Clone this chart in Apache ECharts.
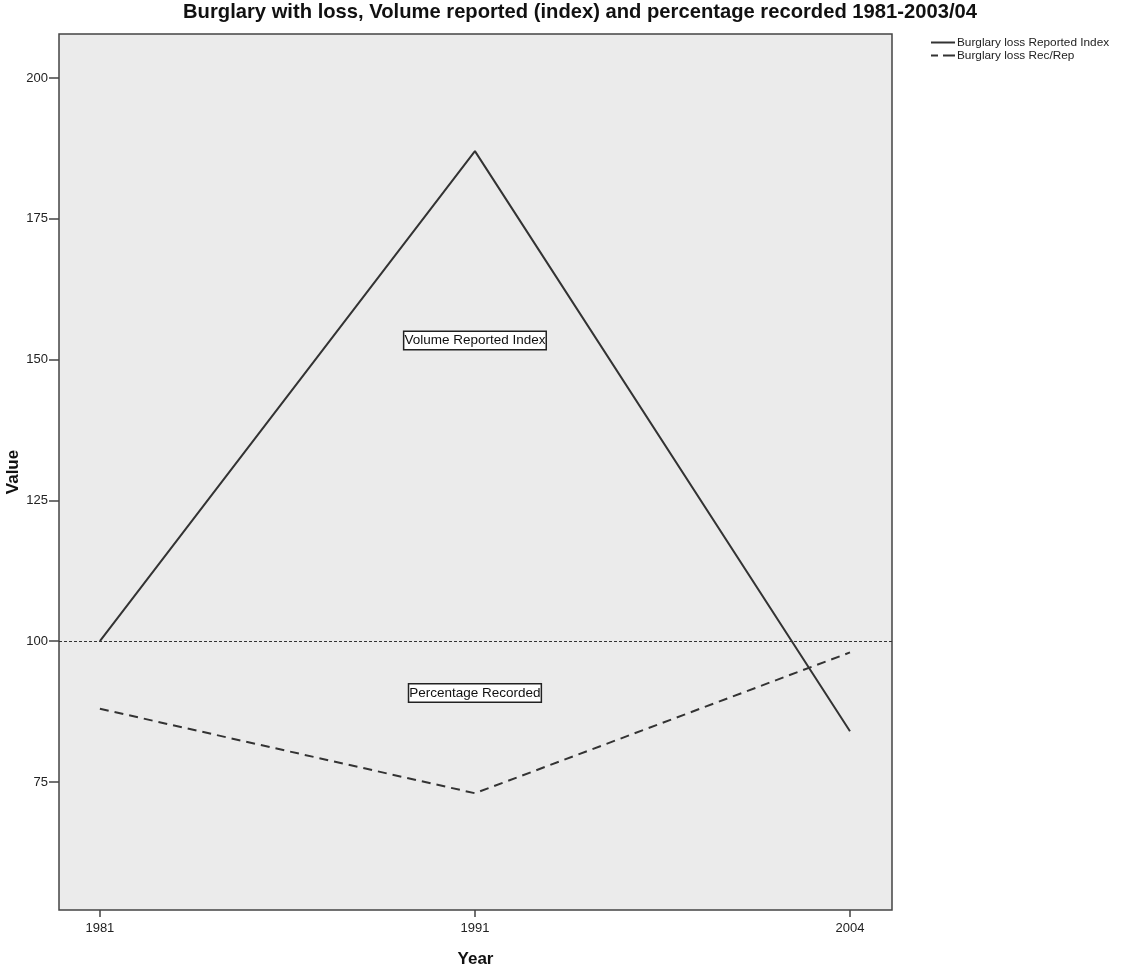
<!DOCTYPE html>
<html><head><meta charset="utf-8">
<script src="https://cdn.jsdelivr.net/npm/echarts@6/dist/echarts.min.js"></script>
<style>html,body{margin:0;padding:0;background:#fff}#c{width:1139px;height:970px}</style>
</head><body><div id="c"></div>
<script>
const years = ['1981', '1991', '2004'];
const reportedIndex = [100, 187, 84];
const recRep = [88, 73, 98];
const yTicks = [75, 100, 125, 150, 175, 200];
const refValue = 100;
const annotations = [
  {text: 'Volume Reported Index', x: 1, y: 153.4},
  {text: 'Percentage Recorded', x: 1, y: 90.8}
];
const FONT = '"Liberation Sans", Arial, sans-serif';
const chart = echarts.init(document.getElementById('c'));
const toPts = arr => arr.map((v, i) => [i, v]);
chart.setOption({
  animation: false,
  backgroundColor: '#fff',
  title: {
    text: 'Burglary with loss, Volume reported (index) and percentage recorded 1981-2003/04',
    left: 580, top: 2, textAlign: 'center', padding: 0,
    textStyle: {fontFamily: FONT, fontSize: 20.2, fontWeight: 'bold', color: '#111'}
  },
  legend: {
    orient: 'vertical', left: 931, top: 36, padding: 0, itemWidth: 24, itemHeight: 2, itemGap: 0,
    textStyle: {fontFamily: FONT, fontSize: 11.8, lineHeight: 13, color: '#222', padding: [0,0,0,-3]},
    data: [
      {name: 'Burglary loss Reported Index', icon: 'rect'},
      {name: 'Burglary loss Rec/Rep', icon: 'path://M0,0h7v2h-7z M12,0h12v2h-12z'}
    ]
  },
  grid: {left: 59, top: 34, right: 247, bottom: 60, show: true, backgroundColor: '#ebebeb', borderColor: '#444', borderWidth: 1.5, containLabel: false, outerBoundsMode: 'none'},
  xAxis: {
    type: 'value', min: -0.109, max: 2.112,
    name: 'Year', nameLocation: 'middle', nameGap: 41, nameMoveOverlap: false,
    nameTextStyle: {fontFamily: FONT, fontSize: 17, fontWeight: 'bold', color: '#111'},
    axisLine: {show: false, onZero: false},
    axisTick: {show: true, length: 7, lineStyle: {color: '#444', width: 1.5}, customValues: years.map((_, i) => i)},
    axisLabel: {fontFamily: FONT, fontSize: 13, color: '#222', margin: 12, customValues: years.map((_, i) => i), formatter: v => years[Math.round(v)]},
    splitLine: {show: false}
  },
  yAxis: {
    type: 'value', min: 52.27, max: 207.8,
    name: 'Value', nameLocation: 'middle', nameGap: 37, nameRotate: 90, nameMoveOverlap: false,
    nameTextStyle: {fontFamily: FONT, fontSize: 17, fontWeight: 'bold', color: '#111'},
    axisLine: {show: false, onZero: false},
    axisTick: {show: true, length: 10, lineStyle: {color: '#444', width: 1.5}, customValues: yTicks},
    axisLabel: {fontFamily: FONT, fontSize: 13, color: '#222', margin: 11, customValues: yTicks},
    splitLine: {show: false}
  },
  series: [
    {
      name: 'Burglary loss Reported Index', type: 'line', data: toPts(reportedIndex),
      showSymbol: false, symbol: 'none', lineStyle: {color: '#333', width: 2}, itemStyle: {color: '#333'},
      markLine: {
        silent: true, symbol: 'none', label: {show: false},
        lineStyle: {type: [3, 2], color: '#333', width: 1},
        data: [{yAxis: refValue}]
      },
      markPoint: {
        symbol: 'rect', symbolSize: 0,
        label: {
          show: true, position: 'inside', fontFamily: FONT, fontSize: 13.5, color: '#111',
          backgroundColor: '#fff', borderColor: '#222', borderWidth: 1.5, padding: [2, 0, 1, 0],
          formatter: p => p.name
        },
        data: annotations.map(a => ({name: a.text, coord: [a.x, a.y], value: a.text}))
      },
      z: 3
    },
    {
      name: 'Burglary loss Rec/Rep', type: 'line', data: toPts(recRep),
      showSymbol: false, symbol: 'none', lineStyle: {color: '#333', width: 2, type: [9, 6]}, itemStyle: {color: '#333'}
    }
  ]
});
</script></body></html>
